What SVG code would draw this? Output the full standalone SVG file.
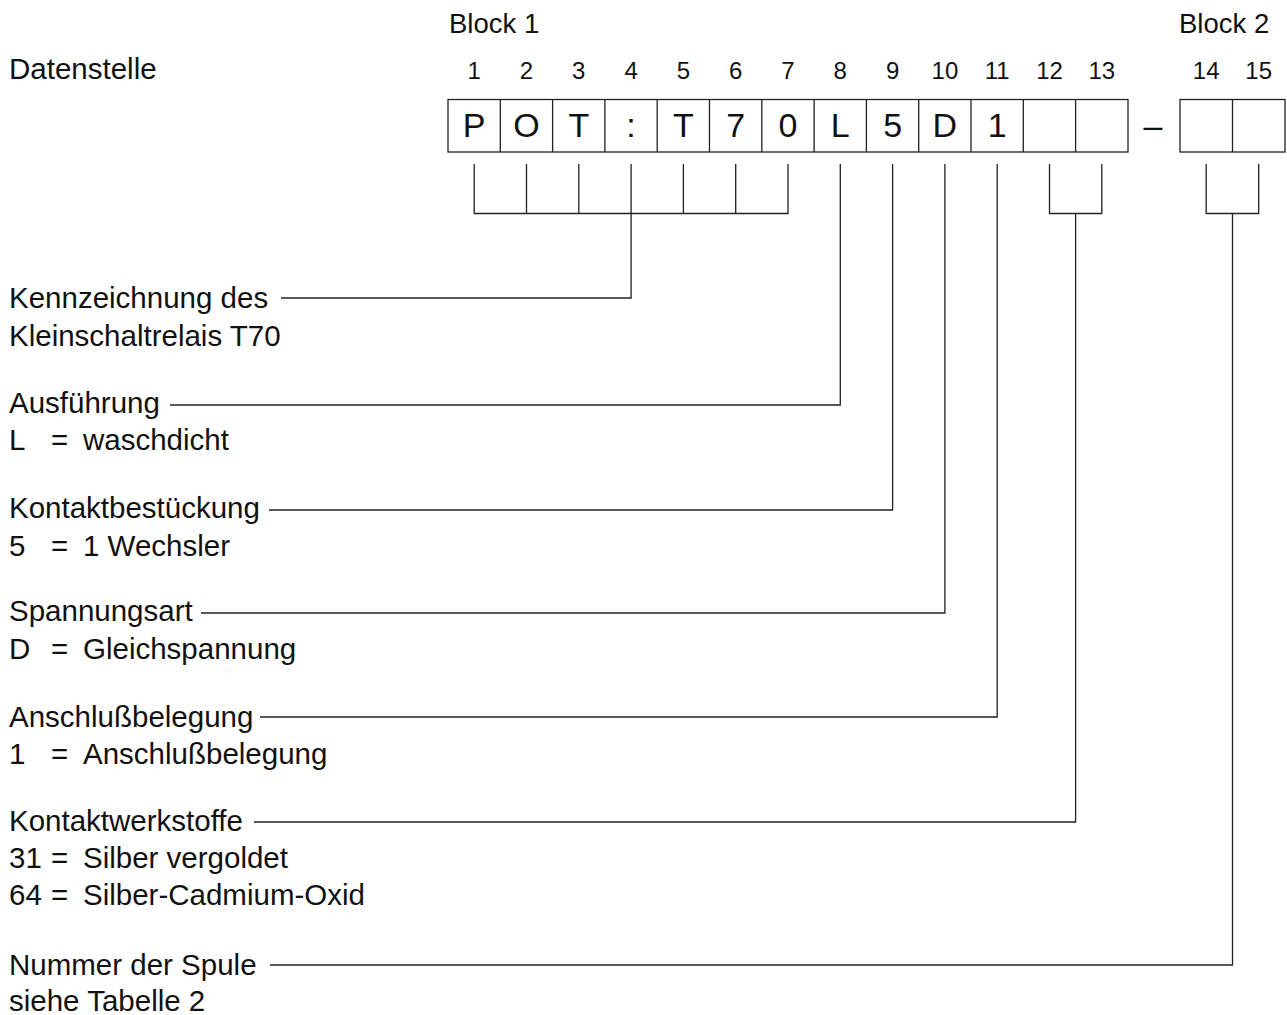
<svg xmlns="http://www.w3.org/2000/svg" width="1287" height="1015" viewBox="0 0 1287 1015">
<style>
text{font-family:"Liberation Sans",Arial,sans-serif;fill:#111}
.lbl{font-size:29.5px}
.num{font-size:24px;text-anchor:middle}
.blk{font-size:27.5px}
.cell{font-size:34px;text-anchor:middle}
.box{fill:#fff;stroke:#222;stroke-width:1.3}
.ln{fill:none;stroke:#222;stroke-width:1.3}
</style>
<rect width="1287" height="1015" fill="#fff"/>
<g id="headers">
<text class="blk" x="449" y="33">Block 1</text>
<text class="blk" x="1179" y="33">Block 2</text>
<text class="lbl" x="9" y="79">Datenstelle</text>
</g>
<g id="positions">
<text class="num" x="474.2" y="79">1</text>
<text class="num" x="526.5" y="79">2</text>
<text class="num" x="578.8" y="79">3</text>
<text class="num" x="631.1" y="79">4</text>
<text class="num" x="683.4" y="79">5</text>
<text class="num" x="735.7" y="79">6</text>
<text class="num" x="788" y="79">7</text>
<text class="num" x="840.3" y="79">8</text>
<text class="num" x="892.6" y="79">9</text>
<text class="num" x="944.9" y="79">10</text>
<text class="num" x="997.2" y="79">11</text>
<text class="num" x="1049.5" y="79">12</text>
<text class="num" x="1101.8" y="79">13</text>
<text class="num" x="1206.2" y="79">14</text>
<text class="num" x="1258.7" y="79">15</text>
</g>
<g id="block1">
<rect class="box" x="448" y="99.5" width="680" height="52.5"/>
<path class="ln" d="M500.3 99.5V152M552.6 99.5V152M604.9 99.5V152M657.2 99.5V152M709.5 99.5V152M761.8 99.5V152M814.1 99.5V152M866.4 99.5V152M918.7 99.5V152M971 99.5V152M1023.3 99.5V152M1075.6 99.5V152"/>
<text class="cell" x="474.2" y="137">P</text>
<text class="cell" x="526.5" y="137">O</text>
<text class="cell" x="578.8" y="137">T</text>
<text class="cell" x="631.1" y="137">:</text>
<text class="cell" x="683.4" y="137">T</text>
<text class="cell" x="735.7" y="137">7</text>
<text class="cell" x="788" y="137">0</text>
<text class="cell" x="840.3" y="137">L</text>
<text class="cell" x="892.6" y="137">5</text>
<text class="cell" x="944.9" y="137">D</text>
<text class="cell" x="997.2" y="137">1</text>
</g>
<g id="dash"><text class="cell" x="1153" y="137">–</text></g>
<g id="block2">
<rect class="box" x="1180" y="99.5" width="105" height="52.5"/>
<path class="ln" d="M1232.5 99.5V152"/>
</g>
<g id="labels">
<g id="l-kennz"><text class="lbl" x="9" y="308">Kennzeichnung des</text><text class="lbl" x="9" y="346">Kleinschaltrelais T70</text></g>
<g id="l-ausf"><text class="lbl" x="9" y="413">Ausführung</text><text class="lbl" x="9" y="450">L</text><text class="lbl" x="51" y="450">=</text><text class="lbl" x="83" y="450">waschdicht</text></g>
<g id="l-kontakt"><text class="lbl" x="9" y="518">Kontaktbestückung</text><text class="lbl" x="9" y="556">5</text><text class="lbl" x="51" y="556">=</text><text class="lbl" x="83" y="556">1 Wechsler</text></g>
<g id="l-spann"><text class="lbl" x="9" y="621">Spannungsart</text><text class="lbl" x="9" y="659">D</text><text class="lbl" x="51" y="659">=</text><text class="lbl" x="83" y="659">Gleichspannung</text></g>
<g id="l-anschl"><text class="lbl" x="9" y="727">Anschlußbelegung</text><text class="lbl" x="9" y="764">1</text><text class="lbl" x="51" y="764">=</text><text class="lbl" x="83" y="764">Anschlußbelegung</text></g>
<g id="l-werk"><text class="lbl" x="9" y="831">Kontaktwerkstoffe</text><text class="lbl" x="9" y="868">31</text><text class="lbl" x="51" y="868">=</text><text class="lbl" x="83" y="868">Silber vergoldet</text><text class="lbl" x="9" y="905">64</text><text class="lbl" x="51" y="905">=</text><text class="lbl" x="83" y="905">Silber-Cadmium-Oxid</text></g>
<g id="l-spule"><text class="lbl" x="9" y="975">Nummer der Spule</text><text class="lbl" x="9" y="1011">siehe Tabelle 2</text></g>
</g>
<g id="connectors" class="ln">
<path d="M474.2 164V213.5H788V164M526.5 164V213.5M578.8 164V213.5M683.4 164V213.5M735.7 164V213.5"/>
<path d="M631.1 164V298H281"/>
<path d="M840.3 164V405H170"/>
<path d="M892.6 164V510H269"/>
<path d="M944.9 164V613H201"/>
<path d="M997.2 164V717H260"/>
<path d="M1049.5 164V213.5H1101.8V164M1075.6 213.5V822H254"/>
<path d="M1206.2 164V213.5H1258.7V164M1232.5 213.5V965H270"/>
</g>
</svg>
